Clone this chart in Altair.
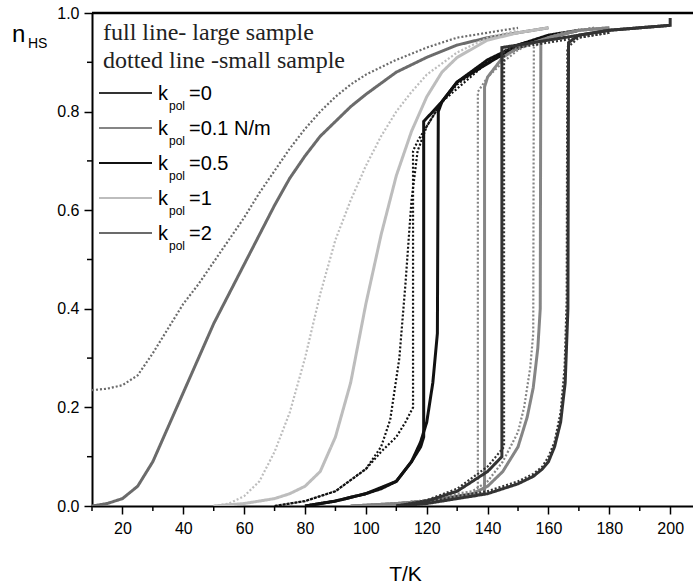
import altair as alt
import pandas as pd

# ---------------- data ----------------
k_labels = ["0", "0.1 N/m", "0.5", "1", "2"]
k_colors = ["#333333", "#858585", "#111111", "#bdbdbd", "#6b6b6b"]

# k_pol = 2
k2_full_T = [10, 15, 20, 25, 30, 35, 40, 45, 50, 55, 60, 65, 70, 75, 80, 85, 90, 95, 100, 110, 120, 130, 140, 150, 160]
k2_full_n = [0.0, 0.005, 0.015, 0.04, 0.09, 0.16, 0.23, 0.30, 0.37, 0.43, 0.49, 0.55, 0.61, 0.665, 0.71, 0.75, 0.78, 0.81, 0.835, 0.88, 0.91, 0.935, 0.95, 0.96, 0.97]
k2_dot_T = [10, 15, 20, 25, 30, 35, 40, 45, 50, 55, 60, 65, 70, 75, 80, 85, 90, 95, 100, 110, 120, 130, 140, 150]
k2_dot_n = [0.235, 0.238, 0.245, 0.265, 0.31, 0.36, 0.41, 0.45, 0.495, 0.54, 0.585, 0.635, 0.68, 0.725, 0.765, 0.8, 0.83, 0.855, 0.875, 0.905, 0.93, 0.95, 0.96, 0.97]

# k_pol = 1
k1_full_T = [50, 60, 70, 75, 80, 85, 90, 95, 100, 105, 110, 115, 120, 125, 130, 140, 150, 160]
k1_full_n = [0.0, 0.005, 0.015, 0.025, 0.04, 0.07, 0.14, 0.25, 0.41, 0.55, 0.67, 0.76, 0.83, 0.88, 0.91, 0.945, 0.96, 0.97]
k1_dot_T = [50, 55, 60, 65, 70, 75, 80, 85, 90, 95, 100, 105, 110, 115, 120, 130, 140, 150]
k1_dot_n = [0.0, 0.005, 0.02, 0.05, 0.11, 0.19, 0.3, 0.43, 0.54, 0.62, 0.69, 0.75, 0.8, 0.84, 0.875, 0.92, 0.95, 0.965]

# k_pol = 0.5 (heating / cooling branches)
k05_full_up_T = [80, 90, 100, 105, 110, 115, 118, 120, 122, 123.5, 123.8, 125, 130, 140, 150, 160, 170]
k05_full_up_n = [0.0, 0.01, 0.025, 0.035, 0.05, 0.09, 0.13, 0.17, 0.25, 0.35, 0.80, 0.82, 0.86, 0.905, 0.935, 0.955, 0.965]
k05_full_dn_T = [170, 150, 130, 125, 119, 119, 118, 115, 110, 100, 90, 80]
k05_full_dn_n = [0.965, 0.935, 0.86, 0.82, 0.78, 0.14, 0.12, 0.09, 0.05, 0.025, 0.01, 0.0]
k05_dot_up_T = [70, 80, 90, 100, 105, 108, 111, 113, 115, 117, 120, 125, 130, 140, 150, 160]
k05_dot_up_n = [0.0, 0.01, 0.03, 0.075, 0.12, 0.175, 0.3, 0.45, 0.62, 0.72, 0.77, 0.82, 0.855, 0.9, 0.935, 0.955]
k05_dot_dn_T = [160, 140, 125, 120, 117, 115.5, 115.5, 113, 110, 105, 100, 90, 80, 70]
k05_dot_dn_n = [0.955, 0.9, 0.82, 0.77, 0.74, 0.72, 0.2, 0.17, 0.14, 0.11, 0.075, 0.03, 0.01, 0.0]

# k_pol = 0.1
k01_full_up_T = [95, 110, 120, 130, 135, 140, 145, 150, 153, 155, 156.5, 157.3, 157.5, 160, 170, 180]
k01_full_up_n = [0.0, 0.005, 0.01, 0.02, 0.025, 0.04, 0.07, 0.12, 0.18, 0.24, 0.32, 0.40, 0.94, 0.95, 0.965, 0.97]
k01_full_dn_T = [180, 170, 160, 150, 145, 140, 139, 139, 135, 130, 120, 110, 95]
k01_full_dn_n = [0.97, 0.965, 0.95, 0.93, 0.91, 0.87, 0.85, 0.025, 0.022, 0.018, 0.01, 0.005, 0.0]
k01_dot_up_T = [95, 110, 120, 130, 135, 140, 145, 150, 152, 154, 155, 155.2, 158, 165, 175]
k01_dot_up_n = [0.0, 0.005, 0.012, 0.025, 0.03, 0.05, 0.09, 0.15, 0.2, 0.28, 0.35, 0.93, 0.945, 0.96, 0.97]
k01_dot_dn_T = [175, 165, 155, 150, 145, 140, 136.8, 136.8, 130, 120, 110, 95]
k01_dot_dn_n = [0.97, 0.96, 0.94, 0.925, 0.9, 0.87, 0.84, 0.02, 0.017, 0.012, 0.005, 0.0]

# k_pol = 0
k0_full_up_T = [110, 120, 130, 140, 145, 150, 155, 158, 160, 162, 164, 165.5, 166.4, 166.6, 170, 180, 190, 200, 200]
k0_full_up_n = [0.0, 0.005, 0.015, 0.025, 0.035, 0.045, 0.06, 0.075, 0.09, 0.12, 0.17, 0.25, 0.40, 0.94, 0.955, 0.965, 0.97, 0.975, 0.99]
k0_full_dn_T = [200, 190, 180, 170, 160, 150, 144.7, 144.7, 140, 130, 120, 110]
k0_full_dn_n = [0.975, 0.97, 0.965, 0.955, 0.945, 0.935, 0.93, 0.1, 0.07, 0.03, 0.01, 0.0]
k0_dot_up_T = [110, 120, 130, 140, 145, 150, 155, 158, 160, 162, 164, 165.3, 166.0, 166.2, 170, 180]
k0_dot_up_n = [0.0, 0.008, 0.02, 0.03, 0.04, 0.05, 0.065, 0.08, 0.1, 0.13, 0.19, 0.28, 0.42, 0.93, 0.95, 0.96]
k0_dot_dn_T = [180, 170, 160, 150, 145.4, 145.4, 140, 130, 120, 110]
k0_dot_dn_n = [0.96, 0.95, 0.94, 0.93, 0.925, 0.12, 0.08, 0.035, 0.012, 0.0]

x_major = [20, 40, 60, 80, 100, 120, 140, 160, 180, 200]
x_minor = [10, 30, 50, 70, 90, 110, 130, 150, 170, 190]
y_major = [0.0, 0.2, 0.4, 0.6, 0.8, 1.0]
y_minor = [0.1, 0.3, 0.5, 0.7, 0.9]

header_lines = ["full line- large sample", "dotted line -small sample"]

# ---------------- build table ----------------
series = [
    ("2", "large", "a", k2_full_T, k2_full_n),
    ("2", "small", "a", k2_dot_T, k2_dot_n),
    ("1", "large", "a", k1_full_T, k1_full_n),
    ("1", "small", "a", k1_dot_T, k1_dot_n),
    ("0.5", "large", "up", k05_full_up_T, k05_full_up_n),
    ("0.5", "large", "dn", k05_full_dn_T, k05_full_dn_n),
    ("0.5", "small", "up", k05_dot_up_T, k05_dot_up_n),
    ("0.5", "small", "dn", k05_dot_dn_T, k05_dot_dn_n),
    ("0.1 N/m", "large", "up", k01_full_up_T, k01_full_up_n),
    ("0.1 N/m", "large", "dn", k01_full_dn_T, k01_full_dn_n),
    ("0.1 N/m", "small", "up", k01_dot_up_T, k01_dot_up_n),
    ("0.1 N/m", "small", "dn", k01_dot_dn_T, k01_dot_dn_n),
    ("0", "large", "up", k0_full_up_T, k0_full_up_n),
    ("0", "large", "dn", k0_full_dn_T, k0_full_dn_n),
    ("0", "small", "up", k0_dot_up_T, k0_dot_up_n),
    ("0", "small", "dn", k0_dot_dn_T, k0_dot_dn_n),
]
rows = []
for k, s, b, Ts, ns in series:
    for i, (t, n) in enumerate(zip(Ts, ns)):
        rows.append({"T": t, "n": n, "k": k, "sample": s, "series": f"{k}|{s}|{b}", "i": i})
df = pd.DataFrame(rows)

W, H = 601, 493
XDOM = [10, 207.5]
FONT = "Liberation Sans"

xscale = alt.Scale(domain=XDOM, nice=False, zero=False)
yscale = alt.Scale(domain=[0, 1], nice=False, zero=False)

lines = alt.Chart(df).mark_line(clip=True).encode(
    x=alt.X("T:Q", scale=xscale, axis=alt.Axis(
        values=x_major, tickSize=8, tickWidth=1.5, tickColor="black",
        domainWidth=2, domainColor="black", grid=False,
        labelFont=FONT, labelFontSize=16, labelColor="black", labelPadding=6,
        title="T/K", titleFont=FONT, titleFontSize=21, titleFontWeight="normal",
        titleColor="black", titleX=313, titleY=74, titleBaseline="alphabetic",
        titleAnchor="start", titleAlign="center")),
    y=alt.Y("n:Q", scale=yscale, axis=alt.Axis(
        values=y_major, format=".1f", tickSize=8, tickWidth=1.5, tickColor="black",
        domainWidth=2, domainColor="black", grid=False,
        labelFont=FONT, labelFontSize=16, labelColor="black", labelPadding=5,
        title=None)),
    color=alt.Color("k:N", scale=alt.Scale(domain=k_labels, range=k_colors), legend=None),
    strokeDash=alt.StrokeDash("sample:N", scale=alt.Scale(domain=["large", "small"], range=[[1, 0], [2, 2]]), legend=None),
    strokeWidth=alt.StrokeWidth("sample:N", scale=alt.Scale(domain=["large", "small"], range=[3, 2.2]), legend=None),
    detail="series:N",
    order="i:Q",
)

xminor_df = pd.DataFrame({"T": x_minor})
xminor = alt.Chart(xminor_df).mark_rule(color="black", strokeWidth=1.5).encode(
    x=alt.X("T:Q", scale=xscale), y=alt.value(H), y2=alt.value(H + 5))
yminor_df = pd.DataFrame({"n": y_minor})
yminor = alt.Chart(yminor_df).mark_rule(color="black", strokeWidth=1.5).encode(
    y=alt.Y("n:Q", scale=yscale), x=alt.value(0), x2=alt.value(-5))

one = alt.Data(values=[{"a": 1}])
top_line = alt.Chart(one).mark_rule(color="black", strokeWidth=2.5).encode(
    x=alt.value(0), x2=alt.value(W), y=alt.value(0))

layers = [lines, xminor, yminor, top_line]

# header text
for j, txt in enumerate(header_lines):
    layers.append(alt.Chart(one).mark_text(
        text=txt, align="left", baseline="alphabetic", font="Liberation Serif",
        fontSize=24, color="#222222").encode(x=alt.value(11), y=alt.value(27 + 28 * j)))

# legend
for j, (lab, col) in enumerate(zip(k_labels, k_colors)):
    cy = 80 + 35 * j
    layers.append(alt.Chart(one).mark_rule(color=col, strokeWidth=2).encode(
        x=alt.value(7), x2=alt.value(60), y=alt.value(cy)))
    layers.append(alt.Chart(one).mark_text(
        text="k", align="left", baseline="alphabetic", font=FONT, fontSize=20,
        color="black").encode(x=alt.value(66), y=alt.value(cy + 7)))
    layers.append(alt.Chart(one).mark_text(
        text="pol", align="left", baseline="alphabetic", font=FONT, fontSize=12,
        color="black").encode(x=alt.value(77), y=alt.value(cy + 17)))
    layers.append(alt.Chart(one).mark_text(
        text="=" + lab, align="left", baseline="alphabetic", font=FONT, fontSize=20,
        color="black").encode(x=alt.value(97), y=alt.value(cy + 7)))

# y-axis title n_HS
layers.append(alt.Chart(one).mark_text(
    text="n", align="left", baseline="alphabetic", font=FONT, fontSize=24,
    color="black").encode(x=alt.value(-80), y=alt.value(29)))
layers.append(alt.Chart(one).mark_text(
    text="HS", align="left", baseline="alphabetic", font=FONT, fontSize=14,
    color="black").encode(x=alt.value(-64), y=alt.value(35)))

chart = alt.layer(*layers).properties(
    width=W, height=H,
    autosize=alt.AutoSizeParams(type="none"),
    padding={"left": 92, "top": 13, "right": 0, "bottom": 78},
    background="white",
).configure_view(stroke=None)

chart.save("out.html", embed_options={"renderer": "svg", "actions": False})
